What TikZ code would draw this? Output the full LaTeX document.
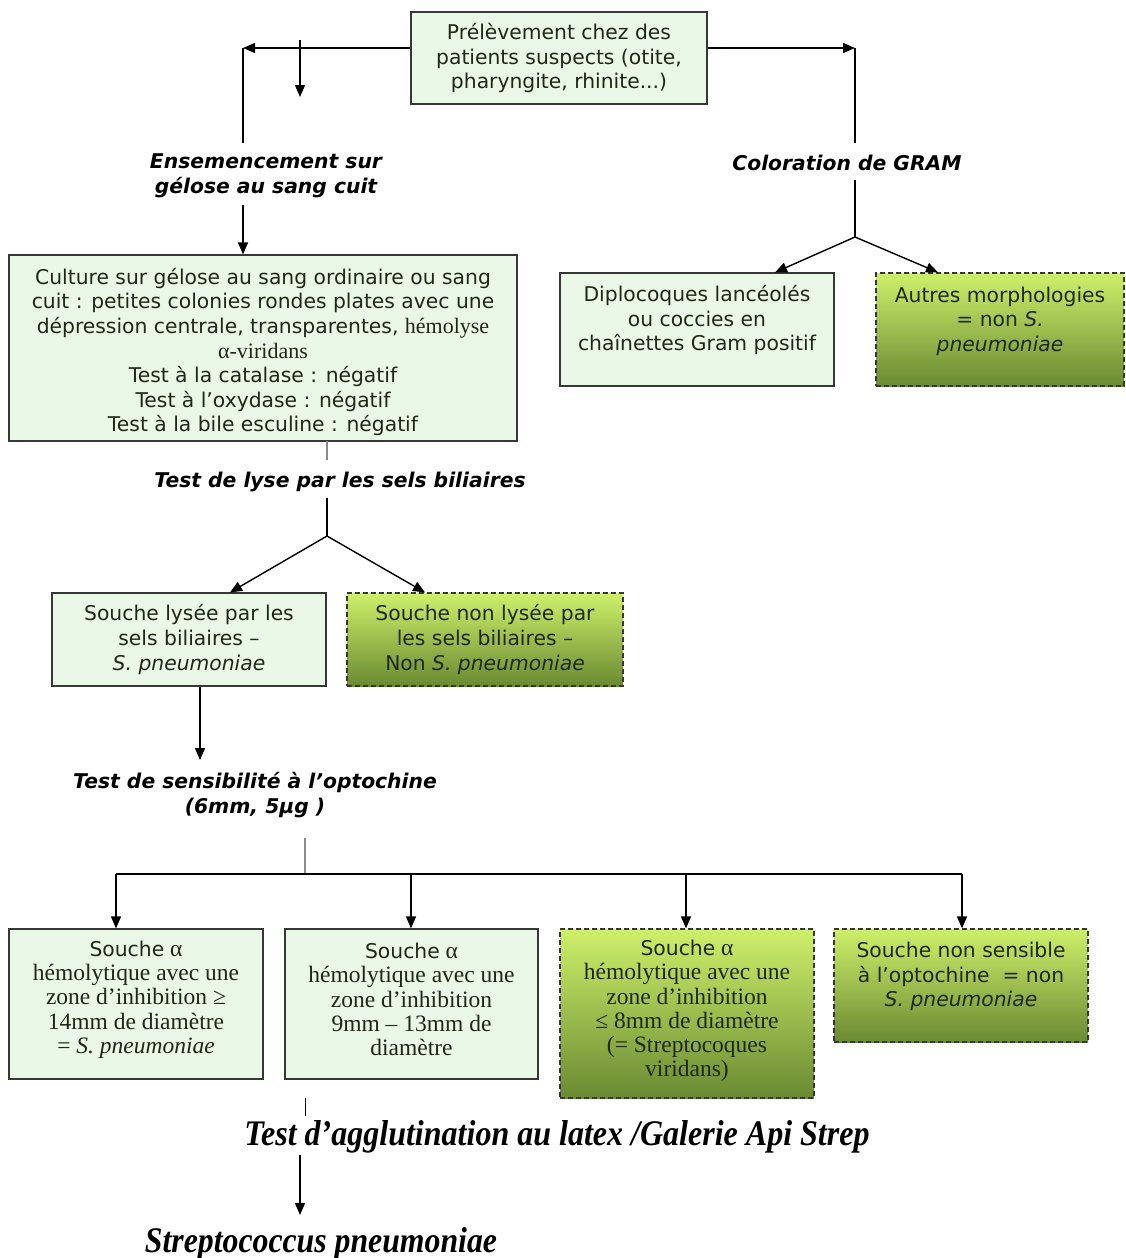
\documentclass[tikz,border=0pt]{standalone}
\usepackage{fontspec}
\usepackage{graphicx}
\usetikzlibrary{arrows.meta}
\newfontfamily\vd{DejaVu Sans}
\newfontfamily\tms{Liberation Serif}
\definecolor{lightfill}{RGB}{234,248,231}
\definecolor{boxline}{RGB}{55,55,55}
\definecolor{gtop}{RGB}{206,240,106}
\definecolor{gbot}{RGB}{106,138,50}
\definecolor{gtext}{RGB}{30,40,20}
\newcommand{\sansfs}{\fontsize{20.3}{24.6}\selectfont}
\tikzset{
  base/.style={draw=boxline, line width=1.2pt, inner sep=0pt, rectangle},
  lightbox/.style={base, fill=lightfill},
  greenbox/.style={base, dash pattern=on 5pt off 3pt, top color=gtop, bottom color=gbot},
  sanstxt/.style={font=\vd\sansfs, align=center, text=gtext},
  seriftxt/.style={font=\tms\fontsize{23.5}{24.3}\selectfont, align=center, text=gtext},
  steplabel/.style={font=\vd\bfseries\itshape\fontsize{20.3}{25}\selectfont, align=center},
  biglabel/.style={font=\tms\bfseries\itshape\fontsize{36}{38}\selectfont},
  link/.style={line width=1.4pt, draw=black},
  graylink/.style={line width=1.4pt, draw=black!45},
  arr/.style={link, -{Triangle[length=12pt,width=10pt]}},
}
\begin{document}
\begin{tikzpicture}[x=1pt,y=-1pt]
\fill[white] (0,0) rectangle (1126,1258);
\useasboundingbox (0,0) rectangle (1126,1258);

% ---- boxes ----
\node[lightbox, minimum width=296pt, minimum height=92pt,
  label={[sanstxt]center:{Prélèvement chez des\\patients suspects (otite,\\pharyngite, rhinite...)}}]
  (top) at (559,58) {};

\node[lightbox, minimum width=508pt, minimum height=186pt,
  label={[sanstxt, yshift=-4pt]center:{Culture sur gélose au sang ordinaire ou sang\\
  cuit : petites colonies rondes plates avec une\\
  dépression centrale, transparentes, {\tms\fontsize{22}{24}\selectfont hémolyse}\\
  {\tms\fontsize{22}{24}\selectfont α-viridans}\\
  Test à la catalase : négatif\\
  Test à l’oxydase : négatif\\
  Test à la bile esculine : négatif}}]
  (culture) at (263,348) {};

\node[lightbox, minimum width=274pt, minimum height=113pt,
  label={[sanstxt, yshift=9.5pt]center:{Diplocoques lancéolés\\ou coccies en\\chaînettes Gram positif}}]
  (diplo) at (697,329.5) {};

\node[greenbox, minimum width=248pt, minimum height=113pt,
  label={[sanstxt, yshift=8.5pt]center:{Autres morphologies\\= non \textit{S.}\\\textit{pneumoniae}}}]
  (autres) at (1000,329.5) {};

\node[lightbox, minimum width=274pt, minimum height=93pt,
  label={[sanstxt]center:{Souche lysée par les\\sels biliaires –\\\textit{S. pneumoniae}}}]
  (lysee) at (189,639.5) {};

\node[greenbox, minimum width=276pt, minimum height=93pt,
  label={[sanstxt]center:{Souche non lysée par\\les sels biliaires –\\Non \textit{S. pneumoniae}}}]
  (nonlysee) at (485,639.5) {};

\node[lightbox, minimum width=254pt, minimum height=150pt,
  label={[seriftxt, yshift=4.5pt]center:{{\vd\sansfs Souche} α\\
  hémolytique avec une\\zone d’inhibition ≥\\14mm de diamètre\\= \textit{S. pneumoniae}}}]
  (zA) at (136,1004) {};

\node[lightbox, minimum width=253pt, minimum height=150pt,
  label={[seriftxt, yshift=4.5pt]center:{{\vd\sansfs Souche} α\\
  hémolytique avec une\\zone d’inhibition\\9mm – 13mm de\\diamètre}}]
  (zB) at (411.5,1004) {};

\node[greenbox, minimum width=254pt, minimum height=169pt,
  label={[seriftxt, yshift=2.5pt]center:{{\vd\sansfs Souche} α\\
  hémolytique avec une\\zone d’inhibition\\≤ 8mm de diamètre\\(= Streptocoques\\viridans)}}]
  (zC) at (687,1013.5) {};

\node[greenbox, minimum width=254pt, minimum height=113pt,
  label={[sanstxt, yshift=9pt]center:{Souche non sensible\\à l’optochine \ = non\\\textit{S. pneumoniae}}}]
  (zD) at (961,985.5) {};

% ---- step labels ----
\node[steplabel] (ens) at (266,176) {Ensemencement sur\\gélose au sang cuit};
\node[steplabel] (gram) at (847,163) {Coloration de GRAM};
\node[steplabel] (lyse) at (340,482) {Test de lyse par les sels biliaires};
\node[steplabel] (opto) at (255,795) {Test de sensibilité à l’optochine\\(6mm, 5µg )};
\node[biglabel, inner sep=0pt] (agglu) at (557,1137)
  {\resizebox{625pt}{\height}{Test d’agglutination au latex /Galerie Api Strep}};
\node[biglabel, inner sep=0pt] (strep) at (321,1244)
  {\resizebox{352pt}{\height}{Streptococcus pneumoniae}};

% ---- junction points ----
\coordinate (tl) at (243,48);
\coordinate (tlb) at (243,143);
\coordinate (tr) at (855,48);
\coordinate (trb) at (855,143);
\coordinate (d1) at (300,40);
\coordinate (d2) at (300,97);
\coordinate (e1) at (243,205);
\coordinate (g1) at (855,180);
\coordinate (g2) at (855,237);
\coordinate (ga) at (775,0);
\coordinate (gb) at (938,0);
\coordinate (l0) at (327,441);
\coordinate (l1) at (327,460);
\coordinate (l2) at (327,498);
\coordinate (l3) at (327,536);
\coordinate (la) at (230,0);
\coordinate (lb) at (425,0);
\coordinate (s0) at (200,0);
\coordinate (s1) at (200,760);
\coordinate (o1) at (305,838);
\coordinate (o2) at (305,874);
\coordinate (bA) at (116,874);
\coordinate (bB) at (411,874);
\coordinate (bC) at (686,874);
\coordinate (bD) at (962,874);
\coordinate (q1) at (305,1098);
\coordinate (q2) at (305,1116);
\coordinate (r1) at (300,1155);
\coordinate (r2) at (300,1215);

% ---- connectors ----
\draw[arr] (top.west |- tl) -- (tl);
\draw[link] (tl) -- (tlb);
\draw[arr] (top.east |- tr) -- (tr);
\draw[link] (tr) -- (trb);
\draw[arr] (d1) -- (d2);
\draw[arr] (e1) -- (e1 |- culture.north);

\draw[link] (g1) -- (g2);
\draw[arr] (g2) -- (ga |- diplo.north);
\draw[arr] (g2) -- (gb |- autres.north);

\draw[graylink] (l0) -- (l1);
\draw[link] (l2) -- (l3);
\draw[arr] (l3) -- (la |- lysee.north);
\draw[arr] (l3) -- (lb |- nonlysee.north);

\draw[arr] (s0 |- lysee.south) -- (s1);

\draw[graylink] (o1) -- (o2);
\draw[link] (bA) -- (bD);
\draw[arr] (bA) -- (bA |- zA.north);
\draw[arr] (bB) -- (bB |- zB.north);
\draw[arr] (bC) -- (bC |- zC.north);
\draw[arr] (bD) -- (bD |- zD.north);

\draw[line width=0.8pt] (q1) -- (q2);
\draw[arr] (r1) -- (r2);
\end{tikzpicture}
\end{document}
